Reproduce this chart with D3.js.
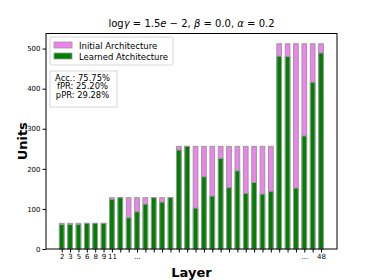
<!DOCTYPE html>
<html><head><meta charset="utf-8">
<script src="https://cdn.jsdelivr.net/npm/d3@7"></script>
<style>body{margin:0;background:#fff}text{font-family:"DejaVu Sans",sans-serif}</style>
</head><body><svg id="c" width="374" height="280"></svg>
<script>
const initialUnits = [64,64,64,64,64,64, 128,128,128,128,128,128,128,128, 256,256,256,256,256,256,256,256,256,256,256,256, 512,512,512,512,512,512];
const learnedUnits = [61,61,61,64,64,64, 124,128,78,93,112,128,117,128, 247,256,102,180,132,226,153,195,139,166,137,144, 481,480,152,282,416,489];
const tickLabels = ["2","3","5","6","8","9","11","","","...","","","","","","","","","","","","","","","","","","","","...","","48"];
const yTicks = [0,100,200,300,400,500];
const statLines = ["Acc.: 75.75%","fPR: 25.20%","pPR: 29.28%"];
const legendLabels = ["Initial Architecture","Learned Atchitecture"];
const colors = ["violet","green"];

const svg = d3.select("#c");
const L=46,R=337,T=33.5,B=249;
const n = initialUnits.length;
const x = d3.scaleLinear().domain([-1.88, n-1+1.91]).range([L,R]);
const y = d3.scaleLinear().domain([0, 537.6]).range([B,T]);
const bw = (x(1)-x(0))*0.56;

const g = svg.append("g");
g.selectAll("rect.init").data(initialUnits).join("rect")
 .attr("x",(d,i)=>x(i)-bw/2).attr("y",d=>y(d)).attr("width",bw).attr("height",d=>B-y(d))
 .attr("fill",colors[0]).attr("stroke","#999").attr("stroke-width",1);
g.selectAll("rect.learn").data(learnedUnits).join("rect")
 .attr("x",(d,i)=>x(i)-bw/2).attr("y",d=>y(d)).attr("width",bw).attr("height",d=>B-y(d))
 .attr("fill",colors[1]).attr("stroke","#999").attr("stroke-width",1);

// axes
const xa = d3.axisBottom(x).tickValues(d3.range(n)).tickFormat(i=>tickLabels[i]).tickSize(3.5).tickPadding(2);
const xg = svg.append("g").attr("transform",`translate(0,${B})`).call(xa);
xg.select(".domain").remove();
xg.selectAll("text").attr("font-size",7).attr("font-family","DejaVu Sans").attr("fill","#000");
const ya = d3.axisLeft(y).tickValues(yTicks).tickSize(3.5).tickPadding(2);
const yg = svg.append("g").attr("transform",`translate(${L},0)`).call(ya);
yg.select(".domain").remove();
yg.selectAll("text").attr("font-size",7).attr("font-family","DejaVu Sans").attr("fill","#000");
svg.append("rect").attr("x",L).attr("y",T).attr("width",R-L).attr("height",B-T).attr("fill","none").attr("stroke","#000").attr("stroke-width",1);

// title
const t = svg.append("text").attr("x",(L+R)/2).attr("y",27).attr("text-anchor","middle").attr("font-size",10);
[["log",0],["γ",1],[" = 1.5",0],["e",1],[" − 2, ",0],["β",1],[" = 0.0, ",0],["α",1],[" = 0.2",0]].forEach(([s,it])=>{
  t.append("tspan").text(s).attr("font-style",it?"italic":"normal");
});
// axis labels
svg.append("text").attr("x",(L+R)/2).attr("y",277).attr("text-anchor","middle").attr("font-size",13).attr("font-weight","bold").text("Layer");
svg.append("text").attr("transform",`translate(27,${(T+B)/2}) rotate(-90)`).attr("text-anchor","middle").attr("font-size",13).attr("font-weight","bold").text("Units");

// legend
const lg = svg.append("g");
lg.append("rect").attr("x",50).attr("y",37).attr("width",123).attr("height",28).attr("rx",2).attr("fill","#fff").attr("fill-opacity",0.8).attr("stroke","#ccc").attr("stroke-width",0.8);
legendLabels.forEach((s,i)=>{
  lg.append("rect").attr("x",54).attr("y",42+i*11).attr("width",18).attr("height",6).attr("fill",colors[i]).attr("stroke","#999").attr("stroke-width",0.8);
  lg.append("text").attr("x",79).attr("y",48.5+i*11).attr("font-size",8.5).text(s);
});
// stats box
svg.append("rect").attr("x",50).attr("y",71).attr("width",67).attr("height",36).attr("fill","#fff").attr("stroke","#ccc").attr("stroke-width",0.8);
statLines.forEach((s,i)=>{
  svg.append("text").attr("x",82.5).attr("y",80.5+i*8.6).attr("text-anchor","middle").attr("font-size",8.4).text(s);
});
</script></body></html>
